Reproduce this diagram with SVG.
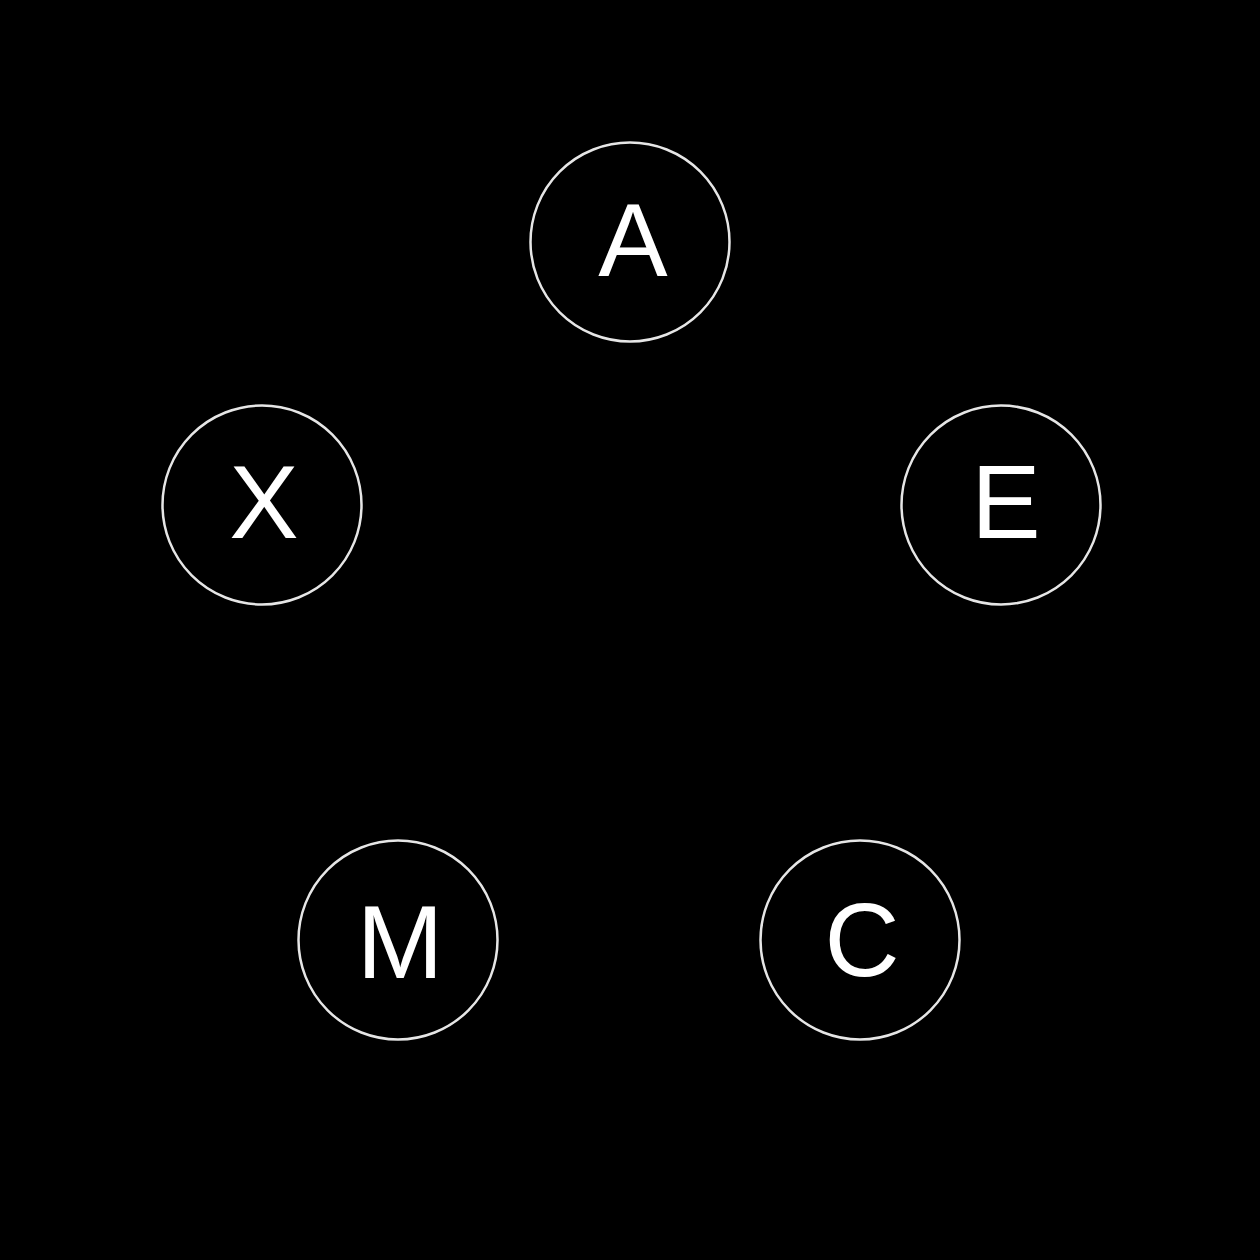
<svg xmlns="http://www.w3.org/2000/svg" width="1260" height="1260" viewBox="0 0 1260 1260">
<style>
.node circle{fill:#000;stroke:#e6e6e6;stroke-width:2.5}
.node text{fill:#fff;font-family:"Liberation Sans",Arial,sans-serif;font-size:104px;text-anchor:middle}
</style>
<rect width="1260" height="1260" fill="#000"/>
<g id="connectors"/>
<g id="node-A" class="node"><circle cx="630" cy="242" r="99.5"/><text x="633" y="276">A</text></g>
<g id="node-X" class="node"><circle cx="262" cy="505" r="99.5"/><text x="264" y="538">X</text></g>
<g id="node-E" class="node"><circle cx="1001" cy="505" r="99.5"/><text x="1006" y="538">E</text></g>
<g id="node-M" class="node"><circle cx="398" cy="940" r="99.5"/><text x="400" y="978">M</text></g>
<g id="node-C" class="node"><circle cx="860" cy="940" r="99.5"/><text x="862" y="976">C</text></g>
</svg>
